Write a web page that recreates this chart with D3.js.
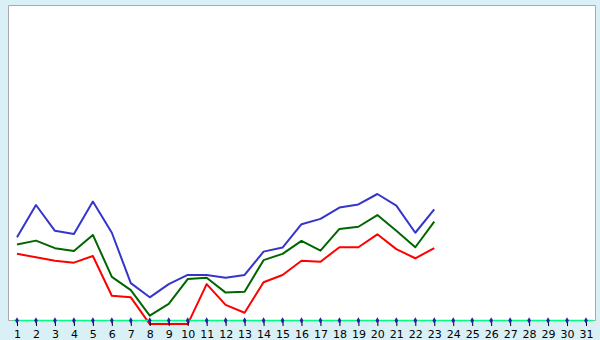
<!DOCTYPE html>
<html><head><meta charset="utf-8">
<script src="https://cdn.jsdelivr.net/npm/d3@7"></script>
<style>html,body{margin:0;padding:0;background:#d9f0f7;}svg{display:block;}</style>
</head><body>
<svg id="chart" width="600" height="340"></svg>
<script>
const days = d3.range(1, 32);
const tickLabels = days.map(String);
const blueValues = [26.3,36.5,28.3,27.3,37.6,27.7,11.7,7.2,11.4,14.3,14.3,13.4,14.3,21.7,23.0,30.4,32.1,35.7,36.7,40.0,36.3,27.7,35.1];
const greenValues = [24.0,25.2,22.8,21.9,27.0,13.7,9.5,1.4,5.1,13.0,13.4,8.7,9.0,19.0,21.0,25.1,22.0,28.9,29.6,33.3,28.3,23.1,31.2];
const redValues = [21.0,19.9,18.8,18.2,20.3,7.7,7.2,-1.3,-1.3,-1.3,11.4,4.8,2.3,12.0,14.3,18.8,18.5,23.1,23.1,27.2,22.5,19.6,22.8];

const svg = d3.select("#chart");
const pLeft = 8, pRight = 595, pTop = 5, pBottom = 320;

const x = d3.scaleLinear().domain([1, 31]).range([17, 586]);
const y = d3.scaleLinear().domain([0, 100]).range([pBottom, pTop]);

svg.append("rect").attr("x", 0).attr("y", 0).attr("width", 600).attr("height", 340).attr("fill", "#d9f0f7");
svg.append("rect").attr("x", pLeft).attr("y", pTop).attr("width", pRight - pLeft).attr("height", pBottom - pTop).attr("fill", "#ffffff");
svg.append("path").attr("d", `M${pLeft+0.5},${pBottom+0.5}V${pTop+0.5}H${pRight+0.5}V${pBottom+0.5}Z`)
  .attr("fill", "none").attr("stroke", "#aaaaaa").attr("stroke-width", 1);

const line = d3.line().x((d, i) => x(i + 1)).y(d => y(d));
const series = [
  {vals: blueValues, color: "#3535cc"},
  {vals: greenValues, color: "#006600"},
  {vals: redValues, color: "#ff0000"}
];
series.forEach(s => {
  svg.append("path").datum(s.vals).attr("d", line)
    .attr("fill", "none").attr("stroke", s.color).attr("stroke-width", 2)
    .attr("stroke-linejoin", "round");
});

const axis = d3.axisBottom(x).tickValues(days).tickFormat((d, i) => tickLabels[i]).tickSize(6).tickPadding(4);
const gx = svg.append("g").attr("transform", `translate(0,${pBottom})`).call(axis);
gx.select(".domain").remove();
gx.selectAll(".tick line").attr("stroke", "#000").attr("stroke-width", 1);
gx.selectAll(".tick text").attr("font-family", "DejaVu Sans, sans-serif").attr("font-size", 11).attr("fill", "#000");

svg.append("line").attr("x1", pLeft + 6).attr("x2", pRight - 2).attr("y1", pBottom + 0.5).attr("y2", pBottom + 0.5)
  .attr("stroke", "#00ff80").attr("stroke-width", 1.6);

const diamond = d3.symbol().type(d3.symbolDiamond).size(12);
svg.selectAll(".dot").data(days).enter().append("path")
  .attr("d", diamond)
  .attr("transform", d => `translate(${x(d)},${pBottom + 0.5})`)
  .attr("fill", "#2222aa");
</script>
</body></html>
